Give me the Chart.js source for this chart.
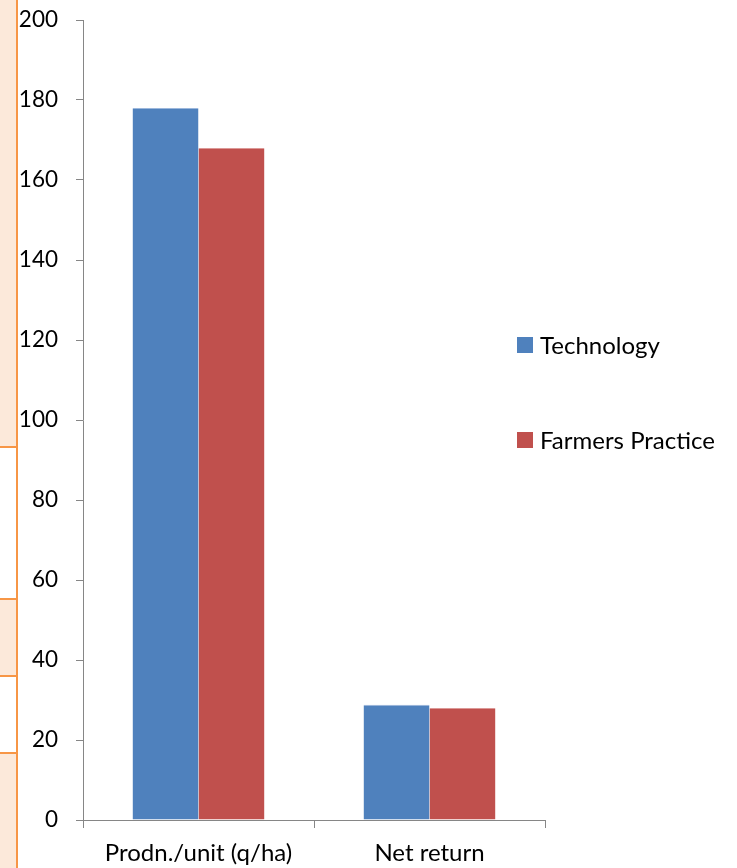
<!DOCTYPE html>
<html>
<head>
<meta charset="utf-8">
<script src="https://cdn.jsdelivr.net/npm/chart.js@4/dist/chart.umd.min.js"></script>
<style>
  html, body { margin: 0; padding: 0; background: #ffffff; }
  #wrap { position: relative; width: 737px; height: 868px; overflow: hidden; background: #ffffff; }
  .band { position: absolute; left: 0; width: 17px; background: #fce9da; }
  .rule { position: absolute; left: 0; width: 17px; height: 2px; background: #f79646; }
  .edge { position: absolute; left: 16px; top: 0; width: 2px; height: 868px; background: #f79646; }
  #chart { position: absolute; left: 0; top: 0; }
</style>
</head>
<body>
<div id="wrap">
  <div class="band" style="top:0;height:447px"></div>
  <div class="band" style="top:599px;height:77px"></div>
  <div class="band" style="top:753px;height:115px"></div>
  <div class="rule" style="top:446px"></div>
  <div class="rule" style="top:598px"></div>
  <div class="rule" style="top:675px"></div>
  <div class="rule" style="top:752px"></div>
  <div class="edge"></div>
  <canvas id="chart" width="737" height="868"></canvas>
</div>
<script>
const categories = ["Prodn./unit (q/ha)", "Net return"];
const technology = [178, 28.8];
const farmersPractice = [168, 28];
const yTicks = [0, 20, 40, 60, 80, 100, 120, 140, 160, 180, 200];

const FONT = { family: "Lato, 'Open Sans', sans-serif", size: 24 };
const NUM_FONT = { family: "Lato, 'Open Sans', sans-serif", size: 22.5 };
const AXIS_GRAY = "#868686";

// Legend drawn to the right of the plot, items stacked with wide spacing
const sideLegend = {
  id: "sideLegend",
  afterDraw(chart) {
    const ctx = chart.ctx;
    ctx.save();
    ctx.font = `${FONT.size}px ${FONT.family}`;
    ctx.textBaseline = "middle";
    ctx.textAlign = "left";
    chart.data.datasets.forEach((ds, i) => {
      const cy = 345 + i * 95;
      ctx.fillStyle = ds.backgroundColor;
      ctx.fillRect(517, cy - 8, 16, 16);
      ctx.fillStyle = "#000000";
      ctx.fillText(ds.label, 540, cy + 1);
    });
    ctx.restore();
  }
};

new Chart(document.getElementById("chart"), {
  type: "bar",
  data: {
    labels: categories,
    datasets: [
      {
        label: "Technology",
        data: technology,
        backgroundColor: "#4f81bd",
        borderColor: "#9bb7dc",
        borderWidth: { top: 1, left: 0, right: 0, bottom: 0 },
        borderSkipped: "bottom"
      },
      {
        label: "Farmers Practice",
        data: farmersPractice,
        backgroundColor: "#c0504d",
        borderColor: "#dc9896",
        borderWidth: { top: 1, left: 0, right: 0, bottom: 0 },
        borderSkipped: "bottom"
      }
    ]
  },
  options: {
    responsive: false,
    animation: false,
    devicePixelRatio: 1,
    datasets: { bar: { categoryPercentage: 0.571, barPercentage: 1.0 } },
    layout: { padding: { left: 0, right: 192, top: 20, bottom: 0 } },
    plugins: { legend: { display: false }, tooltip: { enabled: false } },
    scales: {
      x: {
        grid: { drawOnChartArea: false, offset: true, tickLength: 8, color: AXIS_GRAY, lineWidth: 1 },
        border: { color: AXIS_GRAY, width: 1 },
        ticks: { color: "#000000", font: FONT, padding: 11, maxRotation: 0, autoSkip: false },
        afterFit(scale) { scale.height = 48; scale.paddingLeft = 0; scale.paddingRight = 0; }
      },
      y: {
        min: 0,
        max: 200,
        afterBuildTicks(scale) { scale.ticks = yTicks.map(v => ({ value: v })); },
        grid: { drawOnChartArea: false, tickLength: 7, color: AXIS_GRAY, lineWidth: 1 },
        border: { color: AXIS_GRAY, width: 1 },
        ticks: { color: "#000000", font: NUM_FONT, padding: 18 },
        afterFit(scale) { scale.width = 83; scale.paddingTop = 0; scale.paddingBottom = 0; }
      }
    }
  },
  plugins: [sideLegend]
});
</script>
</body>
</html>
